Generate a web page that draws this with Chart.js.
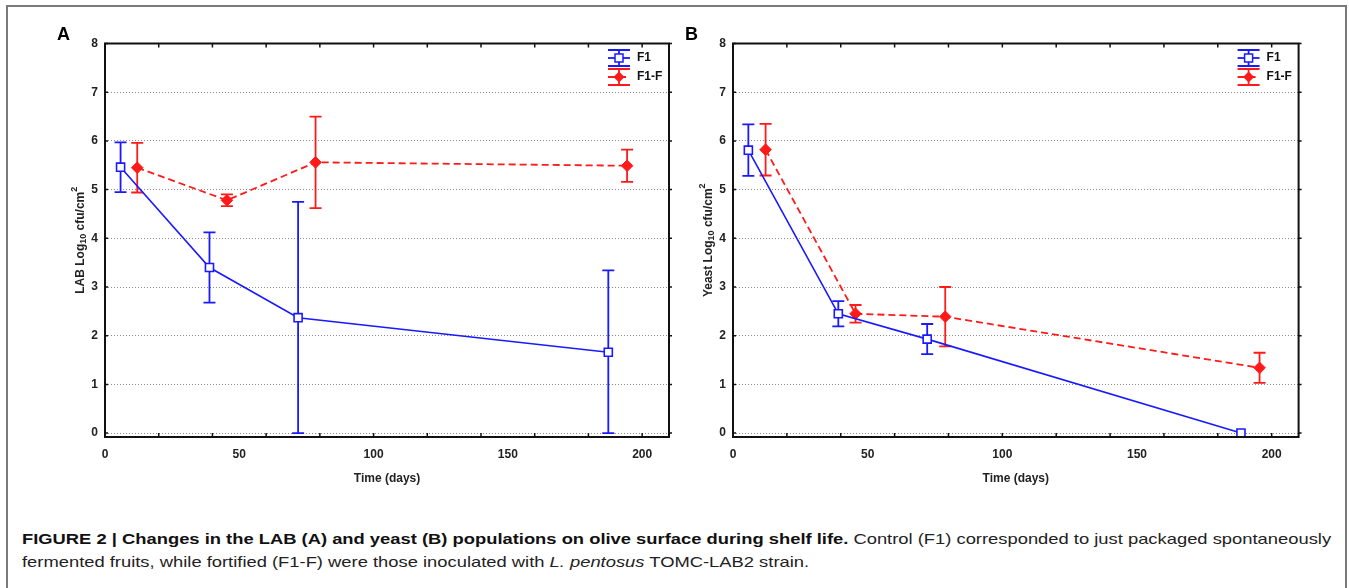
<!DOCTYPE html>
<html>
<head>
<meta charset="utf-8">
<title>Figure 2 - LAB and yeast populations</title>
<script src="https://cdn.jsdelivr.net/npm/chart.js@4.4.1/dist/chart.umd.min.js"></script>
<style>
  body { margin: 0; background: #fff; width: 1349px; height: 588px; overflow: hidden; position: relative;
         font-family: Arial, "Liberation Sans", sans-serif; }
  .frame { position: absolute; left: 6px; top: 5px; width: 1341px; height: 640px; border: 2px solid #7a7a7a; box-sizing: border-box; }
  canvas { position: absolute; top: 0; }
  #chartA { left: 0; }
  #chartB { left: 628px; }
  .letter { position: absolute; top: 25px; font: bold 18px/18px Arial, "Liberation Sans", sans-serif; color: #000; }
  .caption { position: absolute; left: 22px; top: 527px; font-size: 15px; line-height: 23px; color: #222;
             white-space: nowrap; transform: scaleX(1.224); transform-origin: 0 0; }
  .caption b { color: #111; }
</style>
</head>
<body>
<div class="frame"></div>
<canvas id="chartA" width="690" height="500"></canvas>
<canvas id="chartB" width="700" height="500"></canvas>
<div class="letter" style="left:57px">A</div>
<div class="letter" style="left:685px">B</div>
<div class="caption"><b>FIGURE 2 | Changes in the LAB (A) and yeast (B) populations on olive surface during shelf life.</b> Control (F1) corresponded to just packaged spontaneously<br>fermented fruits, while fortified (F1-F) were those inoculated with <i>L. pentosus</i> TOMC-LAB2 strain.</div>

<script>
// Panel A - LAB counts (Log10 cfu/cm2), mean and error
const DAYS_A_F1 = [5.8, 38.9, 71.9, 187.4];
const LAB_F1 = [5.46, 3.40, 2.37, 1.66];
const LAB_F1_ERR = [0.51, 0.72, 2.38, 1.68];
const DAYS_A_F1F = [12.0, 45.4, 78.4, 194.4];
const LAB_F1F = [5.45, 4.78, 5.56, 5.49];
const LAB_F1F_ERR = [0.51, 0.12, 0.94, 0.33];

// Panel B - yeast counts
const DAYS_B_F1 = [5.7, 39.1, 72.1, 188.6];
const YEAST_F1 = [5.81, 2.45, 1.93, 0.0];
const YEAST_F1_ERR = [0.53, 0.26, 0.31, 0.0];
const DAYS_B_F1F = [12.1, 45.5, 78.8, 195.5];
const YEAST_F1F = [5.82, 2.45, 2.39, 1.34];
const YEAST_F1F_ERR = [0.53, 0.18, 0.61, 0.31];

const X_LABELS = [0, 50, 100, 150, 200];
const X_MINOR = [0, 20, 40, 60, 80, 100, 120, 140, 160, 180, 200];
const Y_TICKS = [0, 1, 2, 3, 4, 5, 6, 7, 8];

const BLUE = '#1a1aff';
const RED = '#ff1a1a';
const FONT = 'Arial, "Liberation Sans", sans-serif';

Chart.defaults.font.family = FONT;
Chart.defaults.color = '#222';

function toPoints(days, vals) {
  return days.map((d, i) => ({ x: d, y: vals[i] }));
}

// error bars, frame, inner ticks, legend and axis titles
const statPlugin = {
  id: 'statPlugin',
  beforeDatasetsDraw(chart) {
    const ctx = chart.ctx;
    const ys = chart.scales.y;
    chart.data.datasets.forEach((ds, i) => {
      const meta = chart.getDatasetMeta(i);
      ctx.save();
      ctx.strokeStyle = ds.borderColor;
      ctx.lineWidth = 1.8;
      meta.data.forEach((pt, j) => {
        const err = ds.errors[j];
        if (!err) return;
        const v = ds.data[j].y;
        const top = ys.getPixelForValue(v + err);
        const bot = ys.getPixelForValue(Math.max(v - err, 0));
        ctx.beginPath();
        ctx.moveTo(pt.x, top); ctx.lineTo(pt.x, bot);
        ctx.moveTo(pt.x - 6, top); ctx.lineTo(pt.x + 6, top);
        ctx.moveTo(pt.x - 6, bot); ctx.lineTo(pt.x + 6, bot);
        ctx.stroke();
      });
      ctx.restore();
    });
  },
  afterDraw(chart, args, opts) {
    const ctx = chart.ctx;
    const a = chart.chartArea;
    const xs = chart.scales.x;
    const ys = chart.scales.y;
    ctx.save();
    // frame
    ctx.strokeStyle = '#111';
    ctx.lineWidth = 2;
    ctx.strokeRect(a.left, a.top, a.right - a.left, a.bottom - a.top);
    // inner ticks on top and bottom
    ctx.lineWidth = 1.5;
    ctx.beginPath();
    X_MINOR.forEach(v => {
      const px = xs.getPixelForValue(v);
      ctx.moveTo(px, a.bottom); ctx.lineTo(px, a.bottom - 4);
      ctx.moveTo(px, a.top); ctx.lineTo(px, a.top + 4);
    });
    Y_TICKS.forEach(v => {
      const py = ys.getPixelForValue(v);
      ctx.moveTo(a.right, py); ctx.lineTo(a.right + 3, py);
      ctx.moveTo(a.left, py); ctx.lineTo(a.left + 3, py);
    });
    ctx.stroke();

    // legend
    chart.data.datasets.forEach((ds, i) => {
      const cy = a.top + 14.5 + i * 19;
      const cx = a.right - 50;
      ctx.strokeStyle = ds.borderColor;
      ctx.lineWidth = 1.8;
      ctx.setLineDash(ds.borderDash || []);
      ctx.beginPath();
      ctx.moveTo(cx - 11, cy); ctx.lineTo(cx + 11, cy);
      ctx.stroke();
      ctx.setLineDash([]);
      ctx.beginPath();
      ctx.moveTo(cx, cy - 8); ctx.lineTo(cx, cy + 8);
      ctx.moveTo(cx - 11, cy - 8); ctx.lineTo(cx + 11, cy - 8);
      ctx.moveTo(cx - 11, cy + 8); ctx.lineTo(cx + 11, cy + 8);
      ctx.stroke();
      ctx.fillStyle = ds.pointBackgroundColor;
      ctx.strokeStyle = ds.pointBorderColor;
      ctx.lineWidth = 1.5;
      if (ds.pointStyle === 'rect') {
        ctx.fillRect(cx - 4, cy - 4, 8, 8);
        ctx.strokeRect(cx - 4, cy - 4, 8, 8);
      } else {
        ctx.beginPath();
        ctx.moveTo(cx, cy - 5.5); ctx.lineTo(cx + 5.5, cy); ctx.lineTo(cx, cy + 5.5); ctx.lineTo(cx - 5.5, cy);
        ctx.closePath(); ctx.fill();
      }
      ctx.fillStyle = '#111';
      ctx.font = 'bold 12px ' + FONT;
      ctx.textAlign = 'left';
      ctx.textBaseline = 'middle';
      ctx.fillText(ds.label, a.right - 32, cy);
    });

    // x title
    ctx.fillStyle = '#222';
    ctx.font = 'bold 12px ' + FONT;
    ctx.textAlign = 'center';
    ctx.textBaseline = 'middle';
    ctx.fillText(opts.xTitle, (a.left + a.right) / 2, a.bottom + 42);

    // y title with subscript / superscript
    const parts = [
      { text: opts.yTitle + ' Log', font: 'bold 12px ' + FONT, dy: 0 },
      { text: '10', font: 'bold 9px ' + FONT, dy: 3 },
      { text: ' cfu/cm', font: 'bold 12px ' + FONT, dy: 0 },
      { text: '2', font: 'bold 9px ' + FONT, dy: -6 }
    ];
    ctx.translate(a.left - 24, (a.top + a.bottom) / 2);
    ctx.rotate(-Math.PI / 2);
    ctx.textAlign = 'left';
    let total = 0;
    parts.forEach(p => { ctx.font = p.font; total += ctx.measureText(p.text).width; });
    let x = -total / 2;
    parts.forEach(p => {
      ctx.font = p.font;
      ctx.fillText(p.text, x, p.dy);
      x += ctx.measureText(p.text).width;
    });
    ctx.restore();
  }
};

function makePanel(id, rightPad, yTitle, f1Days, f1Vals, f1Err, fDays, fVals, fErr) {
  return new Chart(document.getElementById(id), {
    type: 'line',
    data: {
      datasets: [
        {
          label: 'F1',
          data: toPoints(f1Days, f1Vals),
          errors: f1Err,
          borderColor: BLUE,
          borderWidth: 1.6,
          pointStyle: 'rect',
          pointRadius: 5.7,
          pointBorderWidth: 1.6,
          pointBackgroundColor: '#fff',
          pointBorderColor: BLUE,
          tension: 0,
          fill: false
        },
        {
          label: 'F1-F',
          data: toPoints(fDays, fVals),
          errors: fErr,
          borderColor: RED,
          borderWidth: 1.8,
          borderDash: [7, 4],
          pointStyle: 'rectRot',
          pointRadius: 5.8,
          pointBorderWidth: 1,
          pointBackgroundColor: RED,
          pointBorderColor: RED,
          tension: 0,
          fill: false
        }
      ]
    },
    options: {
      responsive: false,
      animation: false,
      layout: { padding: { top: 43.5, right: rightPad, left: 0, bottom: 0 } },
      plugins: {
        legend: { display: false },
        tooltip: { enabled: false },
        statPlugin: { xTitle: 'Time (days)', yTitle: yTitle }
      },
      scales: {
        x: {
          type: 'linear',
          min: 0,
          max: 210,
          afterBuildTicks(scale) { scale.ticks = X_LABELS.map(v => ({ value: v })); },
          afterFit(scale) { scale.height = 63; },
          grid: { display: false, drawTicks: false },
          border: { display: false },
          ticks: { padding: 10, font: { size: 12, weight: 'bold' }, color: '#222', maxRotation: 0 }
        },
        y: {
          min: -0.08,
          max: 8,
          afterBuildTicks(scale) { scale.ticks = Y_TICKS.map(v => ({ value: v })); },
          afterFit(scale) { scale.width = 105; },
          grid: { color: '#8c8c8c', lineWidth: 1, drawTicks: false },
          border: { display: false, dash: [1, 2] },
          ticks: { padding: 7, font: { size: 12, weight: 'bold' }, color: '#222' }
        }
      }
    },
    plugins: [statPlugin]
  });
}

makePanel('chartA', 21, 'LAB', DAYS_A_F1, LAB_F1, LAB_F1_ERR, DAYS_A_F1F, LAB_F1F, LAB_F1F_ERR);
makePanel('chartB', 29.4, 'Yeast', DAYS_B_F1, YEAST_F1, YEAST_F1_ERR, DAYS_B_F1F, YEAST_F1F, YEAST_F1F_ERR);
</script>
</body>
</html>
